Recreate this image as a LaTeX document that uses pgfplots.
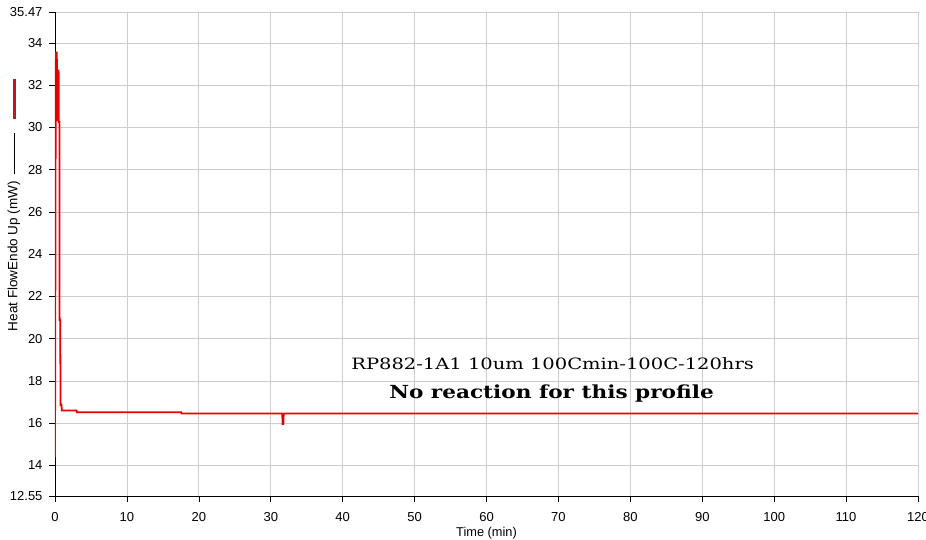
\documentclass[border=0pt]{standalone}
\usepackage{pgfplots}
\pgfplotsset{compat=1.18}
\usepackage{fontspec}
\setmainfont{Liberation Sans}
\newfontfamily\annfont[FakeStretch=1.25]{DejaVu Serif}
\newfontfamily\annfontb[FakeStretch=1.2]{DejaVu Serif Bold}
\definecolor{lineRed}{RGB}{232,0,0}
\definecolor{legRed}{RGB}{190,25,25}
\definecolor{gridGray}{RGB}{205,205,205}
\begin{document}
\begin{tikzpicture}
\begin{axis}[
  at={(0,0)}, anchor=south west,
  scale only axis, width=863pt, height=484pt,
  xmin=0, xmax=120, ymin=12.55, ymax=35.47,
  xtick={0,10,...,120},
  ytick={12.55,14,16,18,20,22,24,26,28,30,32,34,35.47},
  yticklabels={12.55,14,16,18,20,22,24,26,28,30,32,34,35.47},
  grid=major,
  major grid style={color=gridGray, line width=0.8pt},
  axis lines=left,
  axis line style={-, black, line width=0.8pt},
  tick align=outside, major tick length=6pt,
  tick style={black, line width=0.6pt},
  ticklabel style={font=\fontsize{13}{15}\selectfont},
  yticklabel style={xshift=-3pt},
  xticklabel style={yshift=-7pt},
  /pgf/number format/assume math mode=true,
  xlabel={Time (min)},
  xlabel style={font=\fontsize{12.8}{14}\selectfont, at={(axis description cs:0.5,-0.076)}, anchor=center},
  ylabel={Heat FlowEndo Up (mW)\hspace{7pt}\raisebox{0.32ex}{\rule{41pt}{0.8pt}}\hspace{14pt}\textcolor{legRed}{\raisebox{0.25ex}{\rule{40pt}{2.4pt}}}},
  ylabel style={font=\fontsize{13.5}{15}\selectfont, at={(axis description cs:-0.0475,0.601)}, rotate=0, anchor=center},
]
\addplot[lineRed, line width=1.8pt, line join=miter] coordinates {
(0,14.4) (0.04,20.7) (0.1,31.5) (0.13,33.55) (0.25,33.55) (0.27,32.7) (0.35,32.7)
(0.37,30.3) (0.42,32.7) (0.5,32.7) (0.52,30.26) (0.62,30.26) (0.64,20.88) (0.72,20.88)
(0.78,16.86) (0.9,16.86) (0.95,16.6) (3.0,16.6) (3.05,16.52) (17.55,16.52) (17.6,16.46)
(31.6,16.46) (31.65,15.96) (31.75,15.96) (31.8,16.46) (120,16.46)
};
\node[font=\annfont\fontsize{15.6}{18}\selectfont, anchor=base, inner sep=0pt] at (axis cs:69.2,18.56) {RP882-1A1 10um 100Cmin-100C-120hrs};
\node[font=\annfontb\fontsize{18}{22}\selectfont, anchor=base, inner sep=0pt] at (axis cs:69.04,17.19) {No reaction for this profile};
\end{axis}
\pgfresetboundingbox
\useasboundingbox (-55pt,-44pt) rectangle (871pt,496pt);
\end{tikzpicture}
\end{document}
